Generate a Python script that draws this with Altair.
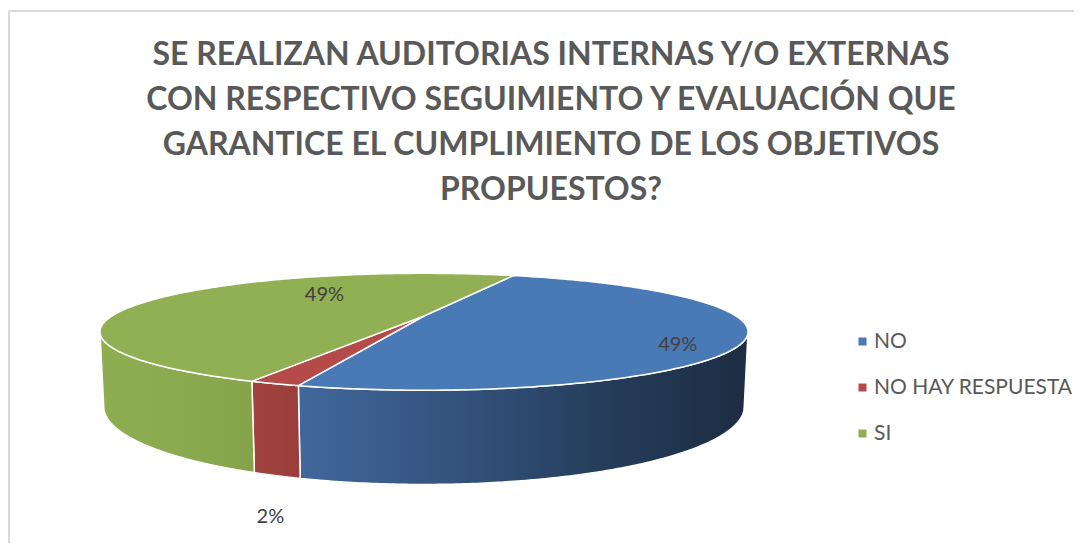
import numpy as np
import pandas as pd
import altair as alt

# ---------------- data ----------------
categories = ["NO", "NO HAY RESPUESTA", "SI"]
values = [49, 2, 49]
percent_labels = ["49%", "2%", "49%"]
title_lines = [
    "SE REALIZAN AUDITORIAS INTERNAS Y/O EXTERNAS",
    "CON RESPECTIVO SEGUIMIENTO Y EVALUACIÓN QUE",
    "GARANTICE EL CUMPLIMIENTO DE LOS OBJETIVOS",
    "PROPUESTOS?",
]

# ---------------- style ----------------
top_colors = ["#4A7AB5", "#B54B48", "#91AF53"]
wall_stops = [
    ["#42679B", "#34547F", "#263E5C", "#1D2C42"],
    ["#A3433F", "#9A3E3B"],
    ["#8FAE52", "#8BAA4F", "#86A34A"],
]
START_DEG = 69.0      # angle (math) where first slice begins, going clockwise
TILT_DEG = 10.0       # elevation of the view
DIST = 3.65           # perspective distance (in radii)
THICK = 0.23          # thickness of the pie (in radii)
N = 160
# label placement: (angle shift from mid-slice, radius, level(0 top/1 bottom), extra drop)
LABEL_PLACE = [(-14.0, 0.85, 0, 0.0), (-1.0, 1.0, 1, 0.135), (-27.7, 0.56, 0, 0.0)]

PLOT_W, PLOT_H = 1066, 535
X_DOM = [-1.33333, 2.08333]
Y_DOM = [-0.72756, 0.98718]

phi = np.radians(TILT_DEG)


def project(t_deg, r, level):
    t = np.radians(np.asarray(t_deg, dtype=float))
    X = r * np.cos(t)
    Z = r * np.sin(t)
    Yh = -THICK if level else 0.0
    yv = Yh * np.cos(phi) + Z * np.sin(phi)
    zv = Z * np.cos(phi) - Yh * np.sin(phi)
    s = DIST / (DIST + zv)
    return X * s, yv * s


total = float(sum(values))
cum = np.concatenate([[0.0], np.cumsum(values)])
edges = [START_DEG - 360.0 * c / total for c in cum]
vis = np.degrees(np.arcsin(1.0 / (DIST * np.cos(phi))))
vis_lo, vis_hi = -180.0 + vis, -vis

rows = []


def add(poly, cat, part, xs, ys):
    for k, (a, b) in enumerate(zip(xs, ys)):
        rows.append(dict(poly=poly, category=cat, part=part, ord=k, x=float(a), y=float(b)))


cx0, cy0 = project(0.0, 0.0, 0)
for i, cat in enumerate(categories):
    t0, t1 = edges[i], edges[i + 1]
    ts = np.linspace(t0, t1, N)
    ax, ay = project(ts, 1.0, 0)
    add(f"top{i}", cat, "top",
        np.concatenate([[cx0], ax, [cx0]]), np.concatenate([[cy0], ay, [cy0]]))
    a, b = max(t1, vis_lo), min(t0, vis_hi)
    if a < b:
        tw = np.linspace(a, b, N)
        tx, ty = project(tw, 1.0, 0)
        bx, by = project(tw[::-1], 1.0, 1)
        add(f"wall{i}", cat, "wall",
            np.concatenate([tx, bx, tx[:1]]), np.concatenate([ty, by, ty[:1]]))

df = pd.DataFrame(rows)

lab_rows = []
for i, cat in enumerate(categories):
    mid = (edges[i] + edges[i + 1]) / 2.0
    shift, rad, lev, drop = LABEL_PLACE[i]
    lx, ly = project(mid + shift, rad, lev)
    lab_rows.append(dict(category=cat, text=percent_labels[i], x=float(lx), y=float(ly - drop)))
ldf = pd.DataFrame(lab_rows)

xsc = alt.Scale(domain=X_DOM, nice=False, zero=False)
ysc = alt.Scale(domain=Y_DOM, nice=False, zero=False)
XE = alt.X("x:Q", scale=xsc, axis=None)
YE = alt.Y("y:Q", scale=ysc, axis=None)

layers = []
for i, cat in enumerate(categories):
    wdf = df[(df.part == "wall") & (df.category == cat)]
    if len(wdf) == 0:
        continue
    stops = wall_stops[i]
    offs = [float(v) for v in np.linspace(0, 1, len(stops))]
    grad = alt.Gradient(
        gradient="linear",
        stops=[alt.GradientStop(color=c, offset=o) for c, o in zip(stops, offs)],
        x1=0, x2=1, y1=0, y2=0,
    )
    layers.append(
        alt.Chart(wdf).mark_line(fill=grad, stroke="white", strokeWidth=1.5, strokeJoin="round")
        .encode(XE, YE, order="ord:Q", detail="poly:N")
    )

tops = alt.Chart(df[df.part == "top"]).mark_line(
    stroke="white", strokeWidth=1.5, strokeJoin="round"
).encode(
    XE, YE,
    order="ord:Q",
    detail="poly:N",
    fill=alt.Fill(
        "category:N",
        scale=alt.Scale(domain=categories, range=top_colors),
        legend=alt.Legend(
            orient="none", legendX=844, legendY=323, title=None,
            symbolType="square", symbolSize=64, symbolStrokeWidth=0,
            labelFont="Lato", labelFontSize=21, labelColor="#595959",
            labelOffset=1, labelLimit=0, rowPadding=24, padding=0,
        ),
    ),
)
layers.append(tops)

labels = alt.Chart(ldf).mark_text(
    font="Lato", fontSize=20, color="#404040", align="center", baseline="middle"
).encode(XE, YE, text="text:N")
layers.append(labels)

title = alt.Chart(pd.DataFrame({"k": [0]})).mark_text(
    text=title_lines, font="Lato", fontSize=32, fontWeight="bold", color="#595959",
    lineHeight=45, align="center", baseline="middle",
).encode(x=alt.value(543), y=alt.value(47))
layers.append(title)

border_v = alt.Chart(pd.DataFrame({"k": [0]})).mark_rule(color="#D9D9D9", strokeWidth=2).encode(
    x=alt.value(1), y=alt.value(3), y2=alt.value(543))
border_h = alt.Chart(pd.DataFrame({"k": [0]})).mark_rule(color="#D9D9D9", strokeWidth=2).encode(
    x=alt.value(1), x2=alt.value(1073), y=alt.value(3))
layers += [border_v, border_h]

chart = alt.layer(*layers).properties(
    width=PLOT_W, height=PLOT_H, autosize="none", padding=0
).configure_view(strokeWidth=0)

chart.save("out.html", embed_options={"renderer": "svg", "actions": False})
